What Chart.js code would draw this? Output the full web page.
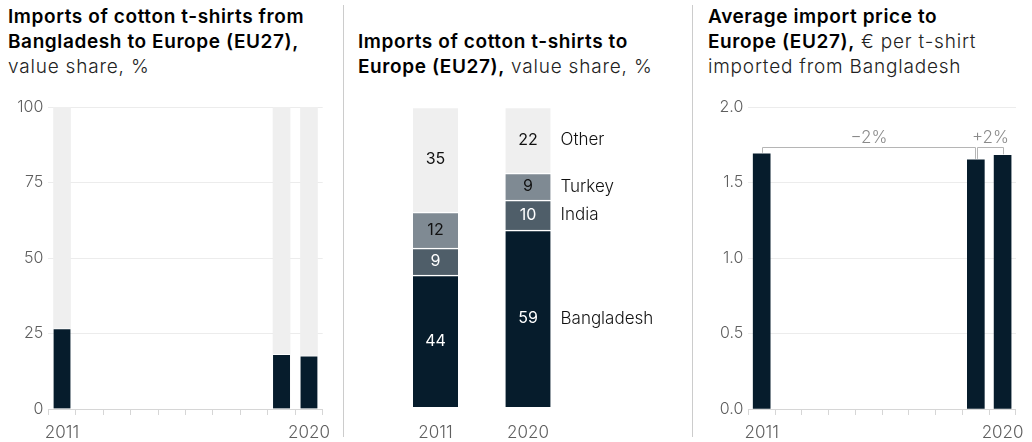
<!DOCTYPE html>
<html>
<head>
<meta charset="utf-8">
<script src="https://cdn.jsdelivr.net/npm/chart.js@4/dist/chart.umd.min.js"></script>
<style>
  body { margin: 0; background: #fff; font-family: Inter, "Noto Sans", sans-serif; }
  #wrap { position: relative; width: 1032px; height: 442px; overflow: hidden; }
  .title { position: absolute; font-size: 19px; line-height: 25px; letter-spacing: 0.8px; color: #222; font-weight: 300; white-space: nowrap; }
  .title b { font-weight: 600; color: #000; letter-spacing: 0.6px; }
  .sep { position: absolute; top: 5px; width: 1px; height: 432px; background: #ccc; }
  .box { position: absolute; top: 90px; height: 352px; }
</style>
</head>
<body>
<div id="wrap">
  <div class="title" style="left:8px; top:4px;"><b>Imports of cotton t-shirts from<br>Bangladesh to Europe (EU27),</b><br>value share, %</div>
  <div class="title" style="left:358px; top:29px;"><b>Imports of cotton t-shirts to<br>Europe (EU27),</b> value share, %</div>
  <div class="title" style="left:708px; top:4px;"><b>Average import price to<br>Europe (EU27),</b> € per t-shirt<br>imported from Bangladesh</div>
  <div class="sep" style="left:343px;"></div>
  <div class="sep" style="left:692px;"></div>
  <div class="box" style="left:0; width:340px;"><canvas id="share-chart"></canvas></div>
  <div class="box" style="left:345px; width:345px;"><canvas id="mix-chart"></canvas></div>
  <div class="box" style="left:700px; width:332px;"><canvas id="price-chart"></canvas></div>
</div>

<script>
/*
 * Data
**/
const years = ['2011', '2012', '2013', '2014', '2015', '2016', '2017', '2018', '2019', '2020']
const bangladeshShare = [26.6, null, null, null, null, null, null, null, 18.1, 17.6]

const mixYears = ['2011', '2020']
const countries = ['Bangladesh', 'India', 'Turkey', 'Other']
const bangladesh = [44, 59]
const india = [9, 10]
const turkey = [12, 9]
const other = [35, 22]

const avgPrice = [1.69, null, null, null, null, null, null, null, 1.65, 1.68]
const changeFrom = ['2011', '2019']
const changeTo = ['2019', '2020']
const changeLabels = ['\u22122%', '+2%']

/*
 * Shared styles
**/
const FONT = 'Inter, "Noto Sans", sans-serif'
const DARK = '#061c2c'
const LIGHT = '#efefef'
const TICK_GREY = '#5f5f5f'
const AXIS_GREY = '#d6d6d6'

Chart.defaults.font.family = FONT
Chart.defaults.animation = false

const yearTick = (value, index, ticks) => (index === 0 || index === ticks.length - 1) ? years[index] : ''

const timeAxis = {
  type: 'category',
  offset: true,
  afterFit: axis => { axis.height = 33 },
  grid: { drawOnChartArea: false, drawTicks: true, tickLength: 6, color: AXIS_GREY },
  border: { display: true, color: AXIS_GREY },
  ticks: { autoSkip: false, maxRotation: 0, padding: 8, color: TICK_GREY, font: { size: 17, weight: 300 }, callback: yearTick }
}

const valueAxis = (max, step, digits) => ({
  min: 0,
  max: max,
  afterFit: axis => { axis.width = 48.3 },
  grid: { drawTicks: false, color: '#ececec' },
  border: { display: false },
  ticks: {
    stepSize: step,
    padding: 5,
    color: TICK_GREY,
    font: { size: 16, weight: 300 },
    callback: v => v.toFixed(digits)
  }
})

/*
 * Left: Bangladesh share over time
**/
new Chart(document.getElementById('share-chart'), {
  type: 'bar',
  data: {
    labels: years,
    datasets: [
      {
        data: bangladeshShare,
        backgroundColor: DARK,
        borderColor: '#fff',
        borderWidth: { top: 1 },
        barThickness: 17
      },
      {
        data: bangladeshShare.map(v => v == null ? null : 100 - v),
        backgroundColor: LIGHT,
        borderWidth: 0,
        barThickness: 17
      }
    ]
  },
  options: {
    responsive: true,
    maintainAspectRatio: false,
    layout: { padding: { top: 17, right: 17.3, bottom: 0, left: 0 } },
    plugins: { legend: { display: false }, tooltip: { enabled: false } },
    scales: {
      x: Object.assign({}, timeAxis, { stacked: true }),
      y: Object.assign(valueAxis(100, 25, 0), { stacked: true })
    }
  }
})

/*
 * Middle: stacked mix by country
**/
const segmentColors = [DARK, '#4f5e69', '#7f8a93', LIGHT]
const segmentText = ['#fff', '#fff', '#111', '#111']
const segmentData = [bangladesh, india, turkey, other]

const mixLabels = {
  id: 'mixLabels',
  afterDatasetsDraw(chart) {
    const ctx = chart.ctx
    ctx.save()
    ctx.textBaseline = 'middle'
    chart.data.datasets.forEach((ds, i) => {
      const meta = chart.getDatasetMeta(i)
      meta.data.forEach((bar, j) => {
        const midY = (bar.y + bar.base) / 2
        ctx.font = `400 16px ${FONT}`
        ctx.fillStyle = segmentText[i]
        ctx.textAlign = 'center'
        ctx.fillText(ds.data[j], bar.x, midY)
        if (j === meta.data.length - 1) {
          ctx.font = `300 17px ${FONT}`
          ctx.fillStyle = '#111'
          ctx.textAlign = 'left'
          ctx.fillText(ds.label, bar.x + bar.width / 2 + 10, midY)
        }
      })
    })
    ctx.restore()
  }
}

new Chart(document.getElementById('mix-chart'), {
  type: 'bar',
  data: {
    labels: mixYears,
    datasets: countries.map((name, i) => ({
      label: name,
      data: segmentData[i],
      backgroundColor: segmentColors[i],
      borderColor: '#fff',
      borderWidth: { top: 1.5 },
      barThickness: 45
    }))
  },
  options: {
    responsive: true,
    maintainAspectRatio: false,
    layout: { padding: { top: 17, right: 115.75, bottom: 0, left: 44.25 } },
    plugins: { legend: { display: false }, tooltip: { enabled: false } },
    scales: {
      x: {
        stacked: true,
        afterFit: axis => { axis.height = 35 },
        grid: { display: false, drawTicks: false },
        border: { display: false },
        ticks: { padding: 16, color: TICK_GREY, font: { size: 17, weight: 300 } }
      },
      y: { stacked: true, display: false, min: 0, max: 100 }
    }
  },
  plugins: [mixLabels]
})

/*
 * Right: average import price with change brackets
**/
const changeBrackets = {
  id: 'changeBrackets',
  afterDatasetsDraw(chart) {
    const ctx = chart.ctx
    const bars = chart.getDatasetMeta(0).data
    const at = year => bars[years.indexOf(year)]
    const tops = changeFrom.concat(changeTo).map(y => at(y).y)
    const lineY = Math.min(...tops) - 7
    ctx.save()
    ctx.strokeStyle = '#b5b5b5'
    ctx.lineWidth = 1
    ctx.fillStyle = '#8a8a8a'
    ctx.font = `300 17px ${FONT}`
    ctx.textAlign = 'center'
    ctx.textBaseline = 'middle'
    changeFrom.forEach((from, i) => {
      const a = at(from)
      const b = at(changeTo[i])
      const x1 = Math.round(a.x + (i > 0 ? 1 : 0)) + 0.5
      const x2 = Math.round(b.x - (i < changeFrom.length - 1 ? 1 : 0)) + 0.5
      const y = Math.round(lineY) + 0.5
      ctx.beginPath()
      ctx.moveTo(x1, a.y - 1)
      ctx.lineTo(x1, y)
      ctx.lineTo(x2, y)
      ctx.lineTo(x2, b.y - 1)
      ctx.stroke()
      ctx.fillText(changeLabels[i], (x1 + x2) / 2, y - 10)
    })
    ctx.restore()
  }
}

new Chart(document.getElementById('price-chart'), {
  type: 'bar',
  data: {
    labels: years,
    datasets: [{
      data: avgPrice,
      backgroundColor: DARK,
      borderWidth: 0,
      barThickness: 17
    }]
  },
  options: {
    responsive: true,
    maintainAspectRatio: false,
    layout: { padding: { top: 17, right: 9.3, bottom: 0, left: 0 } },
    plugins: { legend: { display: false }, tooltip: { enabled: false } },
    scales: {
      x: timeAxis,
      y: valueAxis(2, 0.5, 1)
    }
  },
  plugins: [changeBrackets]
})
</script>
</body>
</html>
